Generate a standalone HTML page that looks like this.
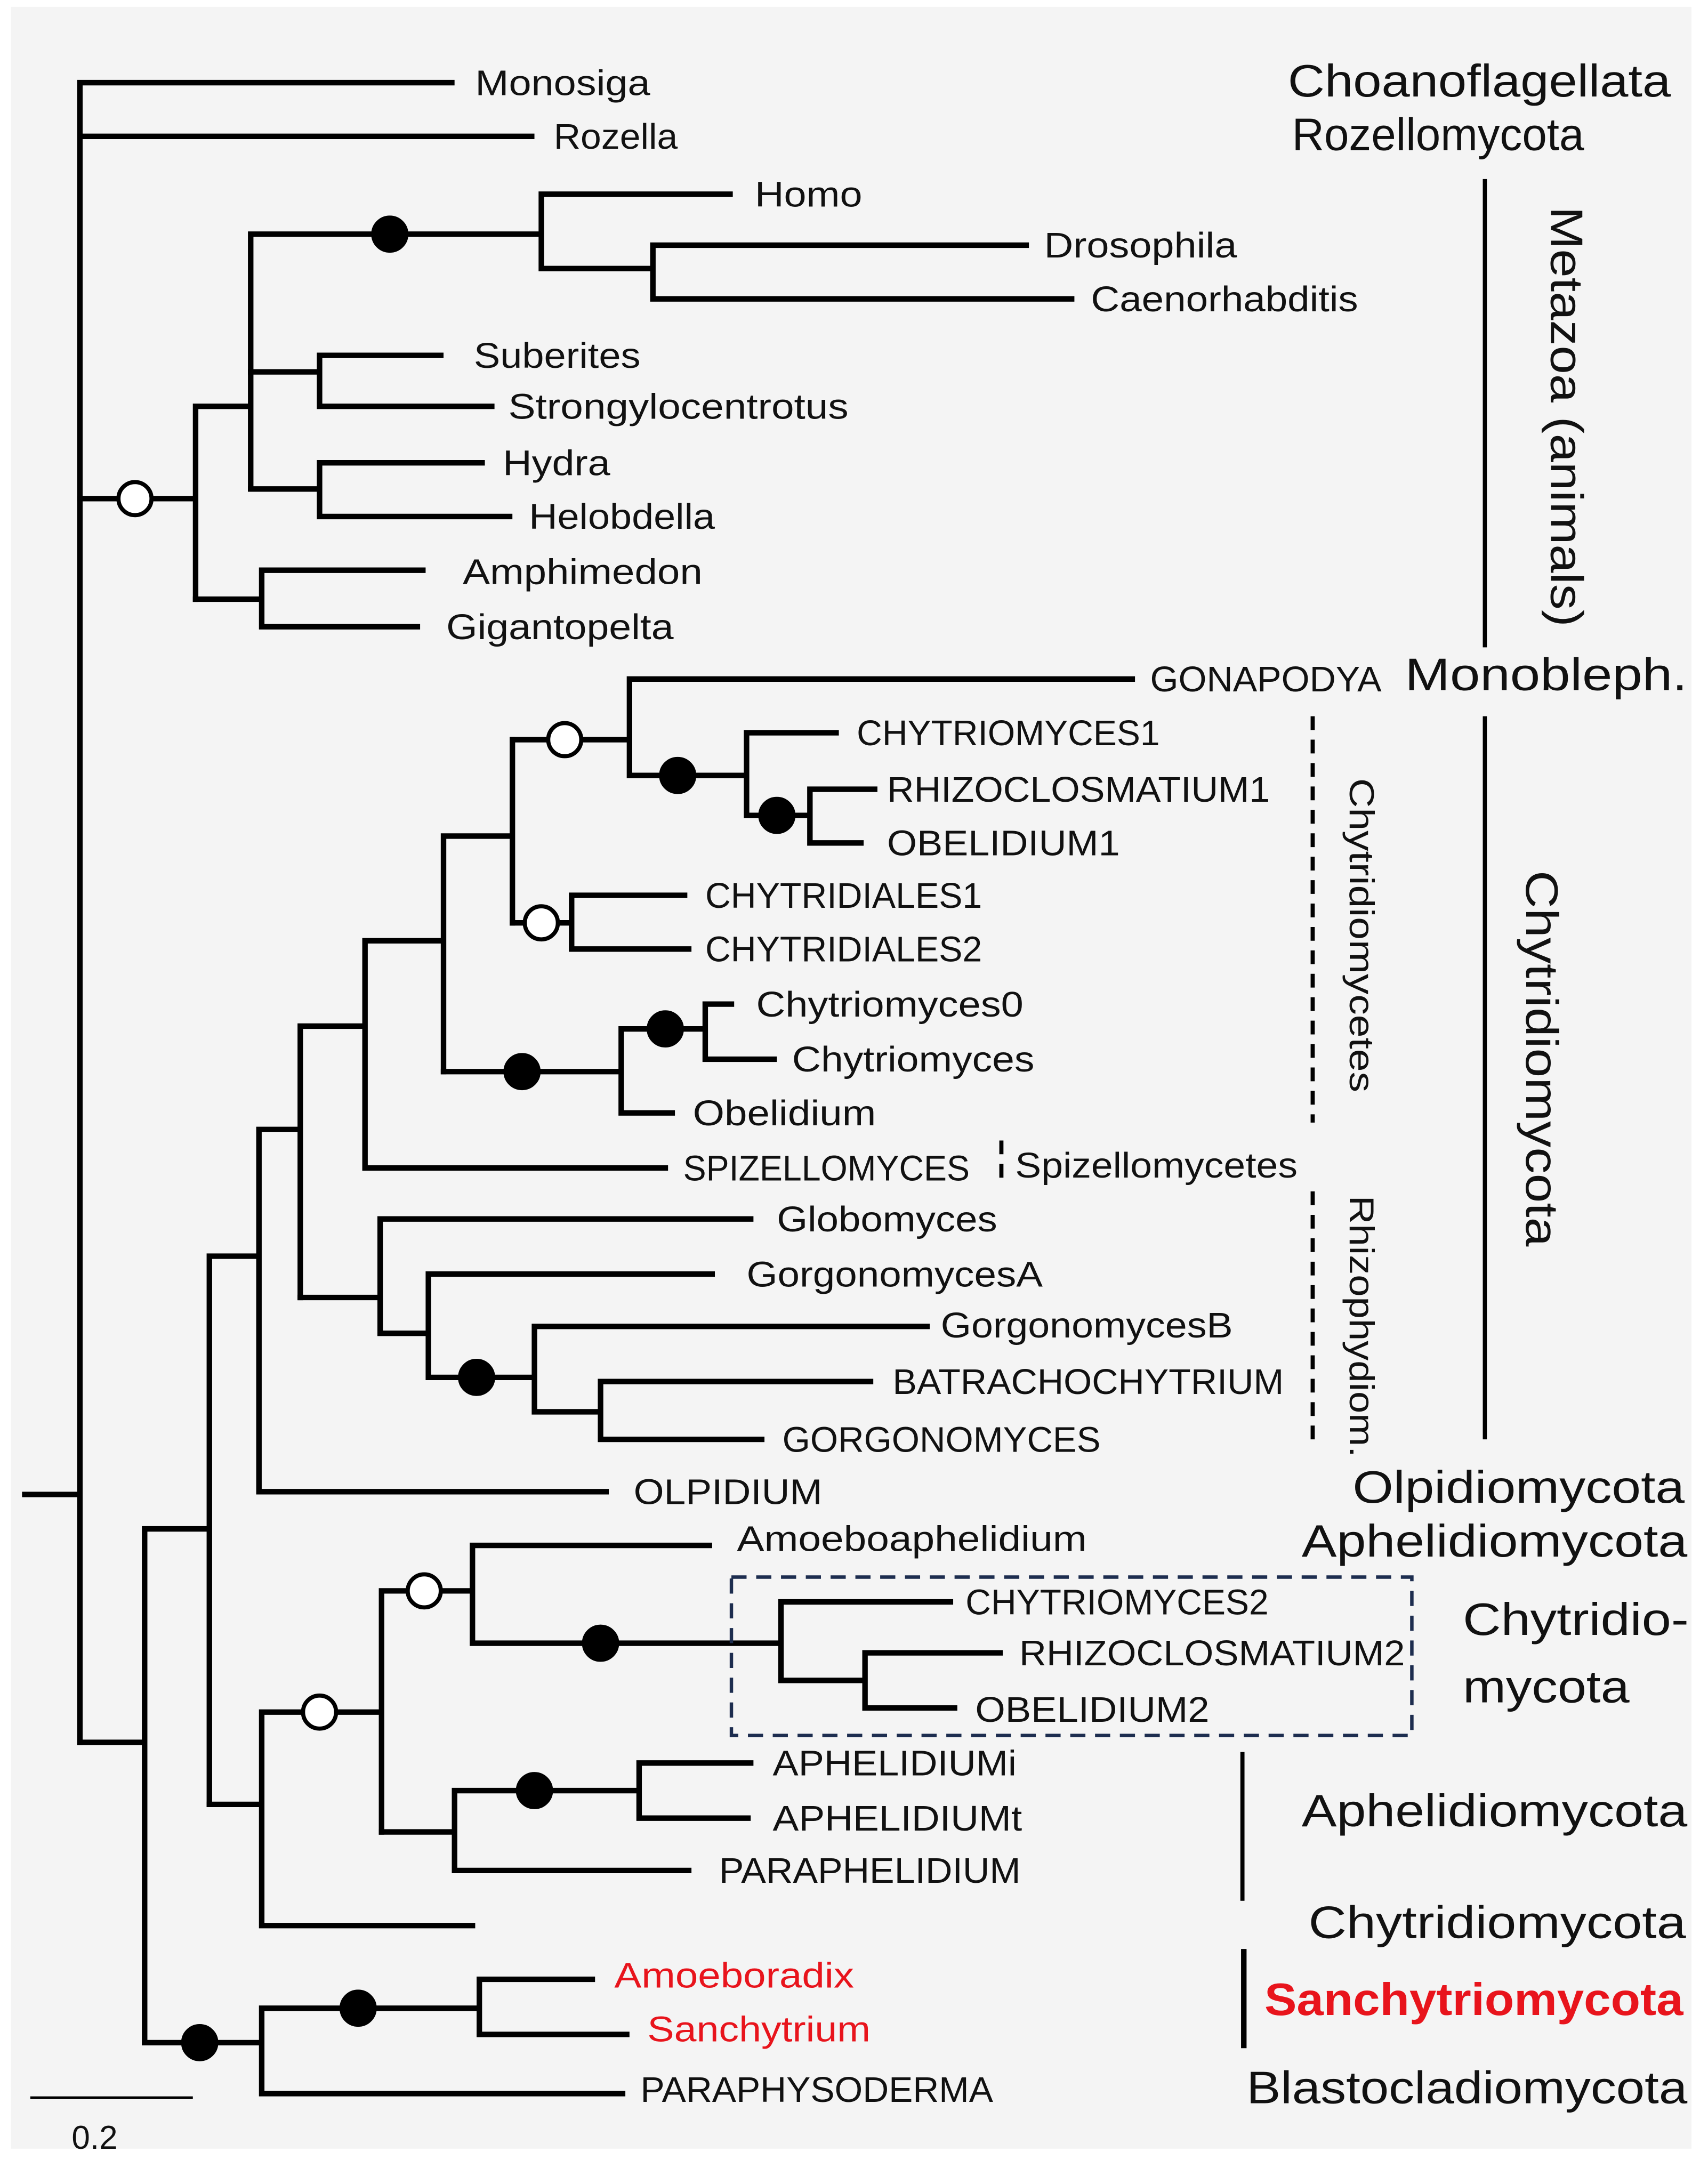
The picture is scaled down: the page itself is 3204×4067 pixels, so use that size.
<!DOCTYPE html>
<html><head><meta charset="utf-8"><style>
html,body{margin:0;padding:0;background:#fff;}
svg{display:block;}
text{font-family:"Liberation Sans",sans-serif;fill:#111;}
</style></head><body>
<svg width="3204" height="4067" viewBox="0 0 1240 1574" preserveAspectRatio="none" xmlns="http://www.w3.org/2000/svg">
<rect x="8" y="5" width="1220" height="1555" fill="#f4f4f4"/>
<g stroke="#000" stroke-width="4" fill="none" stroke-linecap="square">
<!-- root -->
<path d="M18 1085H58 M58 60V1265 M58 60H328 M58 99H386"/>
<!-- metazoa -->
<path d="M58 362H142 M142 295V435 M142 295H182 M182 170V355 M182 170H393 M393 141V195 M393 141H530 M393 195H474 M474 178V217 M474 178H745 M474 217H778"/>
<path d="M182 270H232 M232 258V295 M232 258H320 M232 295H357 M182 355H232 M232 336V375 M232 336H350 M232 375H370"/>
<path d="M142 435H190 M190 414V455 M190 414H307 M190 455H303"/>
<!-- fungi -->
<path d="M58 1265H105 M105 1110V1483 M105 1110H152 M152 912V1310 M152 912H188 M188 820V1083 M188 1083H440 M188 820H218 M218 745V942 M218 745H265 M265 683V848 M265 848H483 M265 683H322 M322 607V778 M322 607H372 M372 537V670"/>
<path d="M372 537H457 M457 493V563 M457 493H822 M457 563H542 M542 532V592 M542 532H607 M542 592H588 M588 573V612 M588 573H635 M588 612H625"/>
<path d="M372 670H415 M415 650V689 M415 650H497 M415 689H500"/>
<path d="M322 778H451 M451 747V808 M451 747H512 M512 729V769 M512 729H531 M512 769H562 M451 808H488"/>
<path d="M218 942H276 M276 885V968 M276 885H545 M276 968H311 M311 925V1000 M311 925H517 M311 1000H388 M388 963V1025 M388 963H673 M388 1025H436 M436 1003V1045 M436 1003H632 M436 1045H553"/>
<path d="M152 1310H190 M190 1243V1398 M190 1398H343 M190 1243H277 M277 1155V1330 M277 1155H343 M343 1122V1193 M343 1122H515 M343 1193H567 M567 1163V1220 M567 1163H690 M567 1220H628 M628 1200V1240 M628 1200H726 M628 1240H693"/>
<path d="M277 1330H330 M330 1300V1358 M330 1300H464 M464 1280V1320 M464 1280H545 M464 1320H543 M330 1358H500"/>
<path d="M105 1483H190 M190 1458V1520 M190 1458H348 M348 1437V1477 M348 1437H430 M348 1477H455 M190 1520H452"/>
</g>
<!-- scale bar -->
<path d="M22 1523H140" stroke="#000" stroke-width="2"/>
<text x="52" y="1560" font-size="24">0.2</text>
<!-- dots -->
<g stroke="#000" stroke-width="3">
<circle cx="98" cy="362" r="12" fill="#fff"/>
<circle cx="283" cy="170" r="12" fill="#000"/>
<circle cx="410" cy="537" r="12" fill="#fff"/>
<circle cx="492" cy="563" r="12" fill="#000"/>
<circle cx="564" cy="592" r="12" fill="#000"/>
<circle cx="393" cy="670" r="12" fill="#fff"/>
<circle cx="379" cy="778" r="12" fill="#000"/>
<circle cx="483" cy="747" r="12" fill="#000"/>
<circle cx="346" cy="1000" r="12" fill="#000"/>
<circle cx="308" cy="1155" r="12" fill="#fff"/>
<circle cx="232" cy="1243" r="12" fill="#fff"/>
<circle cx="436" cy="1193" r="12" fill="#000"/>
<circle cx="388" cy="1300" r="12" fill="#000"/>
<circle cx="260" cy="1458" r="12" fill="#000"/>
<circle cx="145" cy="1483" r="12" fill="#000"/>
</g>
<!-- tip labels -->
<g font-size="26" lengthAdjust="spacingAndGlyphs">
<text x="345" y="69" textLength="127" lengthAdjust="spacingAndGlyphs">Monosiga</text>
<text x="402" y="108" textLength="90" lengthAdjust="spacingAndGlyphs">Rozella</text>
<text x="548" y="150" textLength="78" lengthAdjust="spacingAndGlyphs">Homo</text>
<text x="758" y="187" textLength="140" lengthAdjust="spacingAndGlyphs">Drosophila</text>
<text x="792" y="226" textLength="194" lengthAdjust="spacingAndGlyphs">Caenorhabditis</text>
<text x="344" y="267" textLength="121" lengthAdjust="spacingAndGlyphs">Suberites</text>
<text x="369" y="304" textLength="247" lengthAdjust="spacingAndGlyphs">Strongylocentrotus</text>
<text x="365" y="345" textLength="78" lengthAdjust="spacingAndGlyphs">Hydra</text>
<text x="384" y="384" textLength="135" lengthAdjust="spacingAndGlyphs">Helobdella</text>
<text x="336" y="424" textLength="174" lengthAdjust="spacingAndGlyphs">Amphimedon</text>
<text x="324" y="464" textLength="165" lengthAdjust="spacingAndGlyphs">Gigantopelta</text>
<text x="835" y="502" textLength="168" lengthAdjust="spacingAndGlyphs">GONAPODYA</text>
<text x="622" y="541" textLength="220" lengthAdjust="spacingAndGlyphs">CHYTRIOMYCES1</text>
<text x="644" y="582" textLength="278" lengthAdjust="spacingAndGlyphs">RHIZOCLOSMATIUM1</text>
<text x="644" y="621" textLength="169" lengthAdjust="spacingAndGlyphs">OBELIDIUM1</text>
<text x="512" y="659" textLength="201" lengthAdjust="spacingAndGlyphs">CHYTRIDIALES1</text>
<text x="512" y="698" textLength="201" lengthAdjust="spacingAndGlyphs">CHYTRIDIALES2</text>
<text x="549" y="738" textLength="194" lengthAdjust="spacingAndGlyphs">Chytriomyces0</text>
<text x="575" y="778" textLength="176" lengthAdjust="spacingAndGlyphs">Chytriomyces</text>
<text x="503" y="817" textLength="133" lengthAdjust="spacingAndGlyphs">Obelidium</text>
<text x="496" y="857" textLength="208" lengthAdjust="spacingAndGlyphs">SPIZELLOMYCES</text>
<text x="737" y="855" textLength="205" lengthAdjust="spacingAndGlyphs">Spizellomycetes</text>
<text x="564" y="894" textLength="160" lengthAdjust="spacingAndGlyphs">Globomyces</text>
<text x="542" y="934" textLength="215" lengthAdjust="spacingAndGlyphs">GorgonomycesA</text>
<text x="683" y="971" textLength="212" lengthAdjust="spacingAndGlyphs">GorgonomycesB</text>
<text x="648" y="1012" textLength="284" lengthAdjust="spacingAndGlyphs">BATRACHOCHYTRIUM</text>
<text x="568" y="1054" textLength="231" lengthAdjust="spacingAndGlyphs">GORGONOMYCES</text>
<text x="460" y="1092" textLength="137" lengthAdjust="spacingAndGlyphs">OLPIDIUM</text>
<text x="535" y="1126" textLength="254" lengthAdjust="spacingAndGlyphs">Amoeboaphelidium</text>
<text x="701" y="1172" textLength="220" lengthAdjust="spacingAndGlyphs">CHYTRIOMYCES2</text>
<text x="740" y="1209" textLength="280" lengthAdjust="spacingAndGlyphs">RHIZOCLOSMATIUM2</text>
<text x="708" y="1250" textLength="170" lengthAdjust="spacingAndGlyphs">OBELIDIUM2</text>
<text x="561" y="1289" textLength="177" lengthAdjust="spacingAndGlyphs">APHELIDIUMi</text>
<text x="561" y="1329" textLength="181" lengthAdjust="spacingAndGlyphs">APHELIDIUMt</text>
<text x="522" y="1367" textLength="219" lengthAdjust="spacingAndGlyphs">PARAPHELIDIUM</text>
<text x="446" y="1443" textLength="174" lengthAdjust="spacingAndGlyphs" style="fill:#e8141c">Amoeboradix</text>
<text x="470" y="1482" textLength="162" lengthAdjust="spacingAndGlyphs" style="fill:#e8141c">Sanchytrium</text>
<text x="465" y="1526" textLength="256" lengthAdjust="spacingAndGlyphs">PARAPHYSODERMA</text>
</g>
<!-- group bars -->
<g stroke="#000" stroke-width="3">
<path d="M1078 130V470 M1078 520V1045 M902 1272V1380"/>
<path d="M903 1415V1487" stroke-width="4"/>
<path d="M953 520V815 M953 865V1050 M727 828V860" stroke-dasharray="10,7"/>
</g>
<rect x="531" y="1145" width="494" height="115" fill="none" stroke="#1d2d4f" stroke-width="2.5" stroke-dasharray="11,7"/>
<!-- group labels -->
<g font-size="33">
<text x="935" y="70" textLength="278" lengthAdjust="spacingAndGlyphs">Choanoflagellata</text>
<text x="938" y="109" textLength="212" lengthAdjust="spacingAndGlyphs">Rozellomycota</text>
<text x="1020" y="501" textLength="205" lengthAdjust="spacingAndGlyphs">Monobleph.</text>
<text x="982" y="1091" textLength="241" lengthAdjust="spacingAndGlyphs">Olpidiomycota</text>
<text x="945" y="1130" textLength="280" lengthAdjust="spacingAndGlyphs">Aphelidiomycota</text>
<text x="1062" y="1187" textLength="164" lengthAdjust="spacingAndGlyphs">Chytridio-</text>
<text x="1062" y="1236" textLength="121" lengthAdjust="spacingAndGlyphs">mycota</text>
<text x="945" y="1326" textLength="280" lengthAdjust="spacingAndGlyphs">Aphelidiomycota</text>
<text x="950" y="1407" textLength="274" lengthAdjust="spacingAndGlyphs">Chytridiomycota</text>
<text x="918" y="1463" textLength="304" lengthAdjust="spacingAndGlyphs" font-weight="bold" style="fill:#e8141c">Sanchytriomycota</text>
<text x="905" y="1527" textLength="320" lengthAdjust="spacingAndGlyphs">Blastocladiomycota</text>
<text transform="translate(1126,150) rotate(90)" textLength="305" lengthAdjust="spacingAndGlyphs">Metazoa (animals)</text>
<text transform="translate(1108,632) rotate(90)" textLength="273" lengthAdjust="spacingAndGlyphs">Chytridiomycota</text>
</g>
<g font-size="25">
<text transform="translate(980,565) rotate(90)" textLength="228" lengthAdjust="spacingAndGlyphs">Chytridiomycetes</text>
<text transform="translate(980,868) rotate(90)" textLength="190" lengthAdjust="spacingAndGlyphs">Rhizophydiom.</text>
</g>
</svg>
</body></html>
